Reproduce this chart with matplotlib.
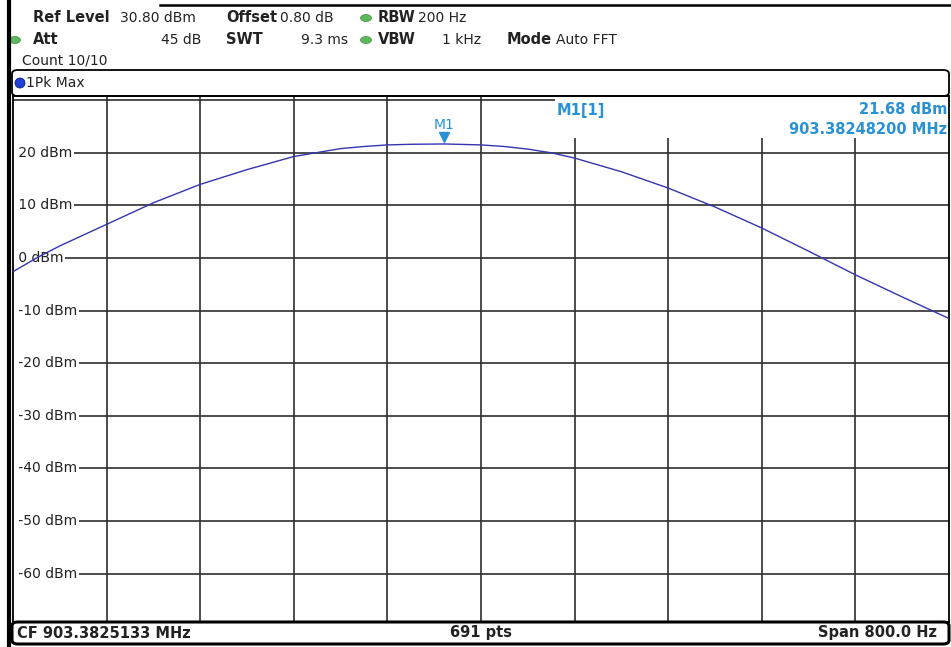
import matplotlib.pyplot as plt
import matplotlib.transforms as mtransforms
from matplotlib.lines import Line2D
from matplotlib.patches import FancyBboxPatch, Ellipse, Rectangle

# screen size in pixels
W, H = 951, 647

# trace: offset from centre frequency (Hz) and level (dBm)
freq_hz = [-400, -380, -360, -320, -280, -240, -200, -160, -120, -100, -80,
           -60, -31, 0, 20, 40, 60, 80, 120, 160, 200, 240, 280, 320, 360, 400]
level_dbm = [-2.6, 0.0, 2.3, 6.4, 10.5, 14.0, 16.8, 19.3, 20.8, 21.2, 21.5,
             21.62, 21.68, 21.5, 21.2, 20.7, 20.0, 19.0, 16.4, 13.3, 9.7, 5.7,
             1.3, -3.2, -7.4, -11.5]

# marker M1
marker_freq = -31.3
marker_level = 21.68

ref_level = 30.8
y_grid = [30, 20, 10, 0, -10, -20, -30, -40, -50, -60]
y_labels = [20, 10, 0, -10, -20, -30, -40, -50, -60]
x_grid = [-320, -240, -160, -80, 0, 80, 160, 240, 320]

GRID = '#2e2e2e'
TRACE = '#3535b0'
MARK = '#2a92d4'
TXT = '#222222'


def fx(x):
    return x / W


def fy(y):
    return 1 - y / H


fig = plt.figure(figsize=(W / 100, H / 100), dpi=100)
fig.patch.set_facecolor('white')

# --------------------------------------------------------------------------
# plot area
# --------------------------------------------------------------------------
ax = fig.add_axes([fx(13), fy(622), (949 - 13) / W, (622 - 96) / H])
ax.set_xlim(-400, 400)
ax.set_ylim(ref_level - 100, ref_level)
ax.set_xticks(x_grid)
ax.set_yticks(y_grid)
ax.tick_params(length=0, labelbottom=False, labelleft=False)
ax.grid(True, color=GRID, linewidth=1.2)
ax.set_axisbelow(True)
for s in ax.spines.values():
    s.set_color('black')
    s.set_linewidth(1.3)

# level labels sit inside the grid on a white patch that hides the line
# (zorder just under the spines so the frame stays whole)
lbl_tr = mtransforms.blended_transform_factory(ax.transAxes, ax.transData)
for v in y_labels:
    ax.text(0.0012, v, f" {v} dBm", transform=lbl_tr, ha='left', va='center',
            fontsize=10, color=TXT, zorder=2.4,
            bbox=dict(boxstyle='square,pad=0.12', facecolor='white',
                      edgecolor='none'))

ax.plot(freq_hz, level_dbm, color=TRACE, linewidth=1.0, zorder=5)

# marker triangle and label
tri_tr = mtransforms.offset_copy(ax.transData, fig=fig, x=0, y=7, units='dots')
ax.plot([marker_freq], [marker_level], marker='v', markersize=7,
        color=MARK, transform=tri_tr, zorder=6, clip_on=False)
lab_tr = mtransforms.offset_copy(ax.transData, fig=fig, x=0, y=19, units='dots')
ax.text(marker_freq, marker_level, "M1", transform=lab_tr, ha='center',
        va='center', fontsize=10, color=MARK, zorder=6)

# marker readout box, drawn over the grid
fig.add_artist(Rectangle((fx(555), fy(138)), (947.5 - 555) / W, 41 / H,
                         facecolor='white', edgecolor='none',
                         transform=fig.transFigure, zorder=1))
fig.text(fx(557), fy(110), "M1[1]", fontsize=10.5, fontweight='bold',
         color=MARK, ha='left', va='center')
fig.text(fx(947), fy(109), f"{marker_level:.2f} dBm", fontsize=10.5,
         fontweight='bold', color=MARK, ha='right', va='center')
fig.text(fx(947), fy(129), "903.38248200 MHz", fontsize=10.5,
         fontweight='bold', color=MARK, ha='right', va='center')

# --------------------------------------------------------------------------
# window frame
# --------------------------------------------------------------------------
fig.add_artist(Line2D([fx(9), fx(9)], [fy(0), fy(647)], color='black',
                      linewidth=3.0))
fig.add_artist(Line2D([fx(160), fx(951)], [fy(5), fy(5)], color='black',
                      linewidth=1.8))
fig.add_artist(FancyBboxPatch((fx(12), fy(96)), (949 - 12) / W, 26 / H,
                              boxstyle='round,pad=0,rounding_size=0.006',
                              facecolor='none', edgecolor='black',
                              linewidth=1.3, transform=fig.transFigure))
fig.add_artist(FancyBboxPatch((fx(12), fy(644)), (949 - 12) / W, 22 / H,
                              boxstyle='round,pad=0,rounding_size=0.006',
                              facecolor='none', edgecolor='black',
                              linewidth=2.2, transform=fig.transFigure))

# --------------------------------------------------------------------------
# header
# --------------------------------------------------------------------------
hdr = dict(fontsize=10, color=TXT, va='center')
bold = dict(fontsize=10.5, color=TXT, va='center', fontweight='bold')

fig.text(fx(33), fy(18), "Ref Level", **bold)
fig.text(fx(120), fy(18), "30.80 dBm", **hdr)
fig.text(fx(226), fy(18), "Offset", **bold)
fig.text(fx(280), fy(18), "0.80 dB", **hdr)
fig.text(fx(378), fy(18), "RBW", **bold)
fig.text(fx(418), fy(18), "200 Hz", **hdr)

fig.text(fx(33), fy(40), "Att", **bold)
fig.text(fx(201), fy(40), "45 dB", ha='right', **hdr)
fig.text(fx(226), fy(40), "SWT", **bold)
fig.text(fx(348), fy(40), "9.3 ms", ha='right', **hdr)
fig.text(fx(378), fy(40), "VBW", **bold)
fig.text(fx(481), fy(40), "1 kHz", ha='right', **hdr)
fig.text(fx(507), fy(40), "Mode", **bold)
fig.text(fx(556), fy(40), "Auto FFT", **hdr)

fig.text(fx(22), fy(60), "Count 10/10", **hdr)

for gx, gy in [(366, 18), (366, 40), (15, 40)]:
    fig.add_artist(Ellipse((fx(gx), fy(gy)), 11 / W, 7 / H,
                           facecolor='#5cb85c', edgecolor='#3f8f3f',
                           linewidth=0.5, transform=fig.transFigure))

fig.add_artist(Ellipse((fx(20), fy(83)), 10 / W, 10 / H, facecolor='#1f3fd6',
                       edgecolor='#10207a', linewidth=0.6,
                       transform=fig.transFigure))
fig.text(fx(26), fy(83), "1Pk Max", **hdr)

# --------------------------------------------------------------------------
# status line
# --------------------------------------------------------------------------
fig.text(fx(17), fy(633), "CF 903.3825133 MHz", **bold)
fig.text(fx(481), fy(633), "691 pts", ha='center', **bold)
fig.text(fx(937), fy(633), "Span 800.0 Hz", ha='right', **bold)

fig.savefig("out.png", dpi=100)
